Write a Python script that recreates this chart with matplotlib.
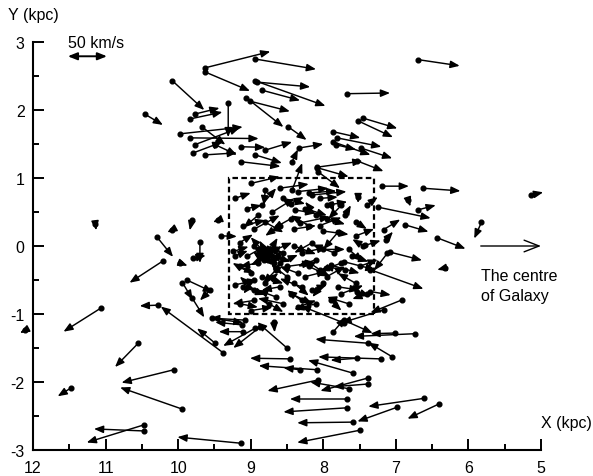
import matplotlib.pyplot as plt
from matplotlib.patches import Rectangle

plt.rcParams['font.family'] = ['Liberation Sans', 'DejaVu Sans']
plt.rcParams['axes.unicode_minus'] = False

# star positions (kpc) and velocity components (km/s); 50 km/s -> 0.5 kpc on the plot
# outer field, upper part
x_top = [9.63, 9.63, 8.94, 10.08, 8.94, 8.91, 8.84, 9.06, 9.01, 8.48, 10.46, 9.31, 9.83, 9.77,
         9.97, 9.83, 9.77, 9.79, 9.63, 9.14, 8.80, 9.14, 8.34, 9.67, 9.49, 8.94, 8.43]
y_top = [2.62, 2.56, 2.75, 2.43, 2.43, 2.41, 2.29, 2.18, 2.13, 1.75, 1.94, 2.10, 1.87, 1.94,
         1.65, 1.59, 1.49, 1.37, 1.34, 1.46, 1.41, 1.24, 1.44, 1.75, 1.49, 1.34, 1.24]
vx_top = [-90, -62, -84, -44, -97, -73, -52, -51, -55, -25, -25, 0, -44, -34,
          -86, -94, -62, -40, -44, -34, -37, -55, -34, -32, -30, -37, -8]
vy_top = [24, -28, -15, -43, -37, -7, -15, -43, -15, -19, -16, -50, 10, 9,
          10, -1, 25, 16, 3, -1, 12, -7, 6, -26, -15, -12, 18]

# outer field, right side
x_right = [6.69, 7.67, 7.45, 7.52, 7.86, 7.81, 7.86, 7.83, 7.48, 8.08, 7.53, 8.08, 8.07, 7.19,
           6.63, 8.43, 5.14, 7.24, 6.70, 6.83, 6.87, 5.82, 6.43, 6.32, 7.08, 7.35, 6.91, 7.52,
           7.17, 7.14, 7.42, 7.12, 7.54, 7.35, 7.72, 8.16, 7.95, 8.39, 8.32]
y_right = [2.74, 2.24, 1.88, 1.84, 1.68, 1.59, 1.53, 1.49, 1.44, 1.16, 1.25, 1.15, 1.09, 0.88,
           0.85, 0.82, 0.75, 0.57, 0.53, 0.68, 0.31, 0.35, 0.12, -0.32, -0.09, -0.35, -0.79, 0.72,
           0.24, 0.09, 0.01, -0.11, -0.67, -0.67, -0.23, 0.75, 0.60, 0.53, 0.34]
vx_right = [-57, -59, -47, -48, -37, -61, -51, -28, -43, -62, -36, -43, -30, -37,
            -52, -14, -17, -72, -25, -3, -32, 10, -39, 11, -44, -73, 44, 0,
            -23, -10, -21, 18, -18, -28, -44, -48, -28, -28, -41]
vy_right = [-9, 1, -15, -24, -9, -13, -19, -7, -15, 9, -15, -13, -24, 0,
            -4, 40, 4, -16, 7, -10, -10, -24, -16, -3, -12, -28, -19, -9,
            15, 12, 7, -25, -7, -5, -12, 5, 5, -5, 9]

# outer field, lower part
x_low = [6.74, 7.01, 7.38, 7.05, 7.21, 7.53, 7.59, 7.38, 7.39, 7.64, 6.61, 6.40, 6.98, 7.67,
         7.68, 7.59, 7.50, 8.07, 8.08, 8.46, 8.32, 8.50, 8.94, 8.87, 9.10, 9.38, 9.49, 9.14,
         8.68, 9.08, 9.12, 7.72, 7.72, 7.86, 7.17, 9.54]
y_low = [-1.29, -1.28, -1.43, -1.63, -1.66, -1.65, -1.87, -1.94, -2.03, -2.10, -2.24, -2.32, -2.37, -2.25,
         -2.38, -2.59, -2.71, -1.97, -1.82, -1.66, -1.82, -1.50, -1.21, -1.19, -1.26, -1.57, -1.43, -2.90,
         -1.12, -1.09, -1.16, -1.13, -1.09, -1.26, -0.94, -1.06]
vx_low = [84, 34, 73, 33, 86, 37, 62, 66, 47, 54, 77, 44, 55, 79,
          87, 77, 86, 70, 81, 55, 23, 41, 44, 37, 34, 86, 25, 87,
          -1, 48, 37, 59, -40, -17, 58, -44]
vy_low = [-4, -1, 6, 21, 3, -3, 19, -19, -4, 10, -12, -22, -21, 0,
          -6, -1, -18, -16, 6, 1, 3, 38, -26, -31, 0, 68, 22, 9,
          -15, 3, 4, 25, -19, 21, -19, -7]

# outer field, left side
x_left = [10.29, 10.21, 11.06, 10.55, 10.06, 9.94, 11.48, 10.47, 10.47, 12.11, 10.28, 11.14,
          10.08, 9.70, 9.79, 9.97, 9.94, 9.88, 9.56, 9.81, 9.81, 9.45, 9.41, 9.24, 9.21]
y_left = [0.13, -0.22, -0.91, -1.43, -1.82, -2.40, -2.09, -2.63, -2.72, -1.24, -0.87, 0.32,
          0.24, 0.06, -0.18, -0.25, -0.54, -0.50, -0.65, -0.76, 0.38, 0.38, 0.15, -0.08, -0.57]
vx_left = [-22, 46, 52, 32, 72, 86, 18, 79, 69, 7, 25, -1,
           7, 0, -17, -10, -14, -36, 14, -17, 3, 7, -22, -21, -30]
vy_left = [-29, -32, -35, -35, -19, 32, -12, -26, 3, -4, -1, -9,
           -4, -31, 4, -4, -25, -18, -15, -29, -15, -3, -1, 7, 7]

# inner 2x2 kpc field (dashed box)
x_box = [9.00, 8.80, 8.60, 8.35, 8.20, 8.05, 7.90, 9.05, 8.85, 8.70, 8.45, 8.25, 8.10, 7.95,
         7.70, 7.55, 9.10, 8.95, 8.80, 8.60, 8.40, 8.20, 8.00, 7.80, 7.55, 9.15, 8.95, 8.85,
         8.75, 8.80, 8.70, 8.78, 8.72, 8.65, 8.90, 8.55, 8.40, 8.30, 8.15, 8.00, 7.85, 7.65,
         7.45, 9.15, 9.00, 8.85, 8.65, 8.50, 8.35, 8.20, 8.05, 7.90, 7.70, 7.50, 9.10, 8.95,
         8.80, 8.60, 8.45, 8.30, 8.15, 8.00, 7.80, 7.55, 9.15, 8.95, 8.75, 8.55, 8.35, 8.10,
         7.90, 7.65, 8.82, 8.76, 8.68, 8.90, 9.22, 9.22, 7.40, 7.40,
         8.78, 8.82, 8.74, 8.70, 8.85, 8.66, 8.60, 8.50, 8.25, 8.10, 7.95, 7.75, 7.60,
         8.45, 8.05, 7.75, 8.55, 8.90, 9.05, 8.30, 7.75, 8.65, 9.00, 8.40, 8.95]
y_box = [0.92, 0.82, 0.85, 0.80, 0.78, 0.70, 0.62, 0.55, 0.60, 0.50, 0.62, 0.55, 0.45, 0.40,
         0.45, 0.35, 0.30, 0.25, 0.35, 0.30, 0.25, 0.30, 0.22, 0.20, 0.15, 0.05, 0.00, -0.05,
         -0.10, -0.18, -0.15, -0.12, -0.22, -0.05, -0.25, -0.10, 0.00, -0.10, 0.05, -0.05, -0.10, -0.05,
         0.00, -0.30, -0.40, -0.45, -0.35, -0.30, -0.40, -0.30, -0.35, -0.28, -0.35, -0.30, -0.60, -0.65,
         -0.55, -0.60, -0.70, -0.60, -0.65, -0.55, -0.60, -0.55, -0.85, -0.80, -0.85, -0.85, -0.90, -0.85,
         -0.80, -0.85, -0.08, -0.20, -0.25, -0.12, 0.70, -0.15, -0.70, 0.60,
         -0.15, -0.20, -0.10, -0.05, -0.15, -0.18, -0.25, -0.45, -0.45, -0.20, -0.45, -0.25, -0.15,
         0.40, 0.30, 0.60, 0.70, 0.45, -0.15, -0.80, -0.70, -0.75, -0.95, -0.55, -0.50]
vx_box = [-40, 2, -40, -42, -38, -25, -5, -20, -20, -30, -18, -30, 15, -25,
          -8, -15, -30, -35, -25, 20, -30, 25, -35, 20, -25, -18, -20, 15,
          -12, 20, -25, 10, -15, -22, 25, 20, -30, -35, 25, -30, 30, -20,
          15, -20, 25, -30, 18, -35, 25, -30, 20, -40, 30, -25, -30, 20,
          -18, 25, -30, 30, -20, 15, -30, 25, -25, 30, -20, 35, -25, 30,
          -15, 30, -12, 18, -10, -20, -22, -18, 20, -15,
          -20, 15, 20, -15, -18, 12, -25, 22, -30, 25, -25, 30, -22,
          25, -30, 18, -30, 20, -25, 20, -30, 25, -30, -20, 15]
vy_box = [10, -22, 6, 5, 3, 2, -12, 5, 25, 20, 10, -10, 20, -8,
          15, -10, 8, 20, -15, -15, 5, 15, -5, -25, 10, 12, -20, 18,
          22, -10, -8, 20, -20, 10, -5, 8, -12, 8, -15, 0, 12, -18,
          10, -10, 15, -10, -20, 5, 10, -15, 15, -12, 5, 10, -12, 20,
          15, -5, -15, 12, 8, -20, -5, 15, -5, -5, -12, 8, 10, -8,
          -15, 10, -10, 6, 18, 12, 8, 8, -8, 12,
          15, 12, -15, -18, -12, 20, 12, 18, 8, -10, 15, -12, -8,
          -15, 12, -20, -8, -18, 15, 15, 12, 10, 5, -18, -20]

x = x_top + x_right + x_low + x_left + x_box
y = y_top + y_right + y_low + y_left + y_box
vx = vx_top + vx_right + vx_low + vx_left + vx_box
vy = vy_top + vy_right + vy_low + vy_left + vy_box

k = 0.01  # kpc per km/s

fig = plt.figure(figsize=(5.93, 4.77), dpi=100)
ax = fig.add_axes([33 / 593, 26 / 477, 508 / 593, 408 / 477])

for xi, yi, u, v in zip(x, y, vx, vy):
    ax.annotate('', xy=(xi + u * k, yi + v * k), xytext=(xi, yi),
                arrowprops=dict(arrowstyle='-|>,head_length=0.55,head_width=0.22', color='k',
                                lw=1.05, shrinkA=0, shrinkB=0, mutation_scale=10),
                annotation_clip=False)
ax.plot(x, y, 'o', color='k', ms=3.4, clip_on=False)

# inner field
ax.add_patch(Rectangle((7.3, -1.0), 2.0, 2.0, fill=False, ec='k', lw=1.6, ls=(0, (2.5, 1.5))))

# 50 km/s scale
ax.annotate('', xy=(10.98, 2.79), xytext=(11.52, 2.79),
            arrowprops=dict(arrowstyle='<|-|>,head_length=0.55,head_width=0.22', color='k',
                            lw=1.4, shrinkA=0, shrinkB=0, mutation_scale=10))
ax.text(11.52, 3.0, '50 km/s', fontsize=11.5, va='center', ha='left')

# direction of galactic centre
ax.annotate('', xy=(5.0, 0.0), xytext=(5.83, 0.0),
            arrowprops=dict(arrowstyle='->,head_length=0.9,head_width=0.35', color='k',
                            lw=1.0, shrinkA=0, shrinkB=0, mutation_scale=12),
            annotation_clip=False)
ax.text(5.83, -0.58, 'The centre\nof Galaxy', fontsize=11.5, va='center', ha='left',
        linespacing=1.35)

ax.set_xlim(12, 5)
ax.set_ylim(-3, 3)
ax.set_xticks(range(12, 4, -1))
ax.set_yticks(range(-3, 4))
ax.set_xticks([11.5, 10.5, 9.5, 8.5, 7.5, 6.5, 5.5], minor=True)
ax.set_yticks([-2.5, -1.5, -0.5, 0.5, 1.5, 2.5], minor=True)
ax.tick_params(which='both', direction='in', width=1.4, labelsize=11.5)
ax.tick_params(which='major', length=8, pad=7)
ax.tick_params(which='minor', length=4.5)
ax.tick_params(axis='y', which='major', pad=6)
for side in ['top', 'right']:
    ax.spines[side].set_visible(False)
for side in ['left', 'bottom']:
    ax.spines[side].set_linewidth(1.5)

ax.text(12.34, 3.41, 'Y (kpc)', fontsize=11.5, va='center', ha='left', clip_on=False)
ax.text(5.0, -2.6, 'X (kpc)', fontsize=11.5, va='center', ha='left', clip_on=False)

fig.savefig('out.png', dpi=100)
